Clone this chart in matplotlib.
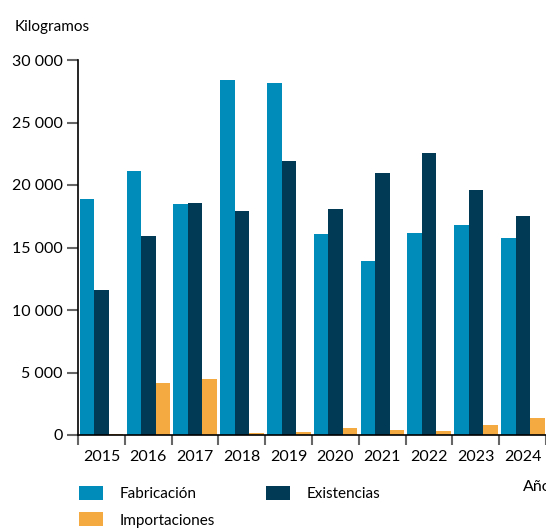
import numpy as np
import matplotlib
matplotlib.use("Agg")
import matplotlib.pyplot as plt

plt.rcParams['font.family'] = ['Lato', 'DejaVu Sans']

years = ["2015", "2016", "2017", "2018", "2019", "2020", "2021", "2022", "2023", "2024"]
fabricacion = [18900, 21100, 18450, 28400, 28200, 16050, 13900, 16150, 16800, 15750]
existencias = [11600, 15900, 18550, 17900, 21900, 18050, 21000, 22550, 19600, 17550]
importaciones = [80, 4200, 4450, 150, 250, 550, 400, 300, 800, 1350]
y_ticks = [0, 5000, 10000, 15000, 20000, 25000, 30000]

c_fab = "#008cba"
c_exi = "#003a55"
c_imp = "#f5a941"

fig = plt.figure(figsize=(5.46, 5.31), dpi=100)
ax = fig.add_axes([78/546, 96/531, 468/546, 375/531])

x = np.arange(len(years))
w = 0.31
ax.bar(x - w + 0.005, fabricacion, w, color=c_fab, label="Fabricación")
ax.bar(x + 0.005, existencias, w, color=c_exi, label="Existencias")
ax.bar(x + w + 0.005, importaciones, w, color=c_imp, label="Importaciones")

ax.set_xlim(-0.5, -0.5 + 468/47)
ax.set_ylim(0, 30000)

for s in ["top", "right"]:
    ax.spines[s].set_visible(False)
ax.spines["left"].set_color("black")
ax.spines["bottom"].set_color("black")
ax.spines["left"].set_linewidth(1.2)
ax.spines["bottom"].set_linewidth(1.2)

ax.set_yticks(y_ticks)
ax.set_yticklabels([f"{v:,}".replace(",", " ") for v in y_ticks])
ax.tick_params(axis="y", length=8, width=1.5, color="#666666", labelsize=11.5, pad=3)

ax.set_xticks(np.arange(len(years) + 1) - 0.5)
ax.set_xticklabels([])
ax.tick_params(axis="x", which="major", length=7, width=1.5, color="#666666")
ax.set_xticks(x, minor=True)
ax.set_xticklabels(years, minor=True)
ax.tick_params(axis="x", which="minor", length=0, labelsize=11.5, pad=11)

fig.text(15/546, 1 - 27/531, "Kilogramos", fontsize=11, va="center", ha="left")
fig.text(523/546, 1 - 487/531, "Año", fontsize=11.5, va="center", ha="left")

h, l = ax.get_legend_handles_labels()
order = [0, 2, 1]
fig.legend([h[i] for i in order], [l[i] for i in order], ncol=2,
           loc="upper left", bbox_to_anchor=(79/546, 1 - 486/531),
           borderaxespad=0, borderpad=0,
           frameon=False, fontsize=11, handlelength=1.57, handleheight=1.05,
           handletextpad=1.1, columnspacing=3.3, labelspacing=0.72)

fig.savefig("out.png", dpi=100)
